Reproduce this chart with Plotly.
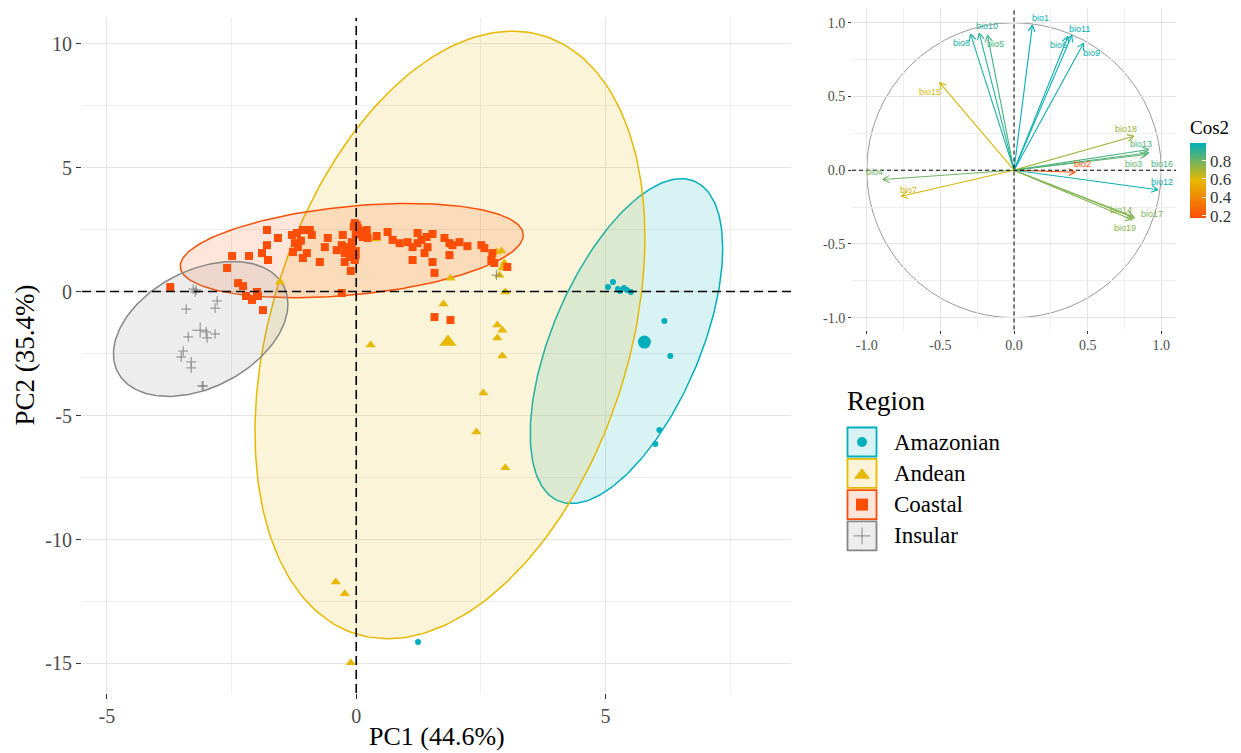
import numpy as np
import plotly.graph_objects as go
from plotly.colors import sample_colorscale

# ---------------- DATA ----------------
regions = ["Amazonian", "Andean", "Coastal", "Insular"]
region_colors = ["#00AFBB", "#E7B800", "#FC4E07", "#868686"]

amazonian_pc1 = [5.05, 5.15, 5.25, 5.37, 5.43, 5.51, 5.29, 6.18, 6.30, 6.08, 6.00, 1.24]
amazonian_pc2 = [0.18, 0.38, 0.10, 0.14, 0.06, -0.02, 0.02, -1.19, -2.60, -5.58, -6.15, -14.13]

andean_pc1 = [-1.53, 0.39, 0.99, 1.89, 1.75, 2.81, 2.91, 2.97, 2.93, 2.87, 2.99, 2.83,
              2.93, 2.83, 2.93, 2.55, 2.41, 2.99, 0.29, -0.41, -0.23, -0.11]
andean_pc2 = [0.38, 2.12, 1.96, 0.54, -0.50, 1.59, 1.63, 1.15, 0.95, 0.66, -0.02, -1.35,
              -1.56, -1.87, -2.60, -4.09, -5.66, -7.11, -2.16, -11.71, -12.19, -14.97]

coastal_pc1 = [-3.73, -1.79, -1.57, -1.79, -1.89, -1.77, -2.49, -2.15, -2.59, -2.37, -2.27,
               -2.21, -2.09, -1.99, -1.97, -1.87, -1.29, -1.19, -1.07, -0.93, -0.89, -1.23,
               -1.27, -1.17, -0.99, -1.07, -0.73, -0.63, -0.57, -0.39, -0.27, -0.29, -0.19,
               -0.09, -0.09, -0.23, -0.13, -0.23, -0.03, -0.11, -0.29, -0.03, 0.03, 0.07,
               0.13, 0.21, 0.23, 0.41, 0.63, 0.73, 0.87, 1.03, 1.13, 1.23, 1.31, 1.23, 1.41,
               1.53, 1.43, 1.37, 1.13, 1.53, 1.57, 1.77, 1.87, 1.93, 2.07, 1.87, 2.23, 2.51,
               2.57, 2.71, 2.73, 2.77, 3.03, 1.57, 1.89, -0.05, 0.01, -0.01, 0.09, -1.11]
coastal_pc2 = [0.18, 2.48, 2.16, 1.87, 1.55, 1.27, 1.43, 1.43, 0.95, 0.34, 0.22,
               -0.18, -0.34, -0.02, -0.18, -0.75, 2.28, 2.36, 2.48, 2.48, 2.28, 1.95,
               1.59, 1.79, 1.55, 1.35, 1.19, 1.79, 2.16, 1.67, 2.28, 1.87, 1.79,
               1.99, 1.75, 1.55, 1.39, 1.19, 1.27, 0.83, -0.06, 2.76, 2.56, 2.36,
               2.20, 2.48, 2.16, 2.24, 2.40, 2.08, 1.95, 1.99, 1.79, 2.36, 2.08, 1.95, 2.20,
               2.32, 1.79, 1.55, 1.27, 1.19, 0.75, 2.16, 1.95, 1.87, 1.99, 1.47, 1.83, 1.87,
               1.75, 1.27, 1.55, 1.15, 0.99, -1.03, -1.15, 2.62, 2.68, 2.30, 2.44, 2.05]

insular_pc1 = [-3.21, -3.27, -2.79, -2.83, -3.41, -3.01, -2.83, -2.99, -3.37, -3.47, -3.51,
               -3.31, -3.31, -3.09, -3.07, -3.23, 2.81]
insular_pc2 = [0.06, 0.10, -0.38, -0.67, -0.71, -1.63, -1.71, -1.87, -1.83, -2.40, -2.64,
               -2.84, -3.08, -3.81, -3.81, -0.02, 0.66]

# group means (large symbols)
mean_pc1 = [5.78, 1.84, -0.05, -3.13]
mean_pc2 = [-2.04, -2.04, 1.55, -1.56]

# concentration ellipses: centre, half extents along PC1/PC2, correlation
ellipse_cx = [5.42, 1.88, -0.09, -3.12]
ellipse_cy = [-2.00, -1.75, 1.65, -1.51]
ellipse_hx = [1.93, 3.91, 3.44, 1.75]
ellipse_hy = [6.55, 12.25, 1.90, 2.72]
ellipse_rho = [0.57, 0.32, 0.33, 0.37]

# variables (correlation circle)
var_names = ["bio1", "bio2", "bio3", "bio4", "bio5", "bio6", "bio7", "bio8", "bio9", "bio10",
             "bio11", "bio12", "bio13", "bio14", "bio15", "bio16", "bio17", "bio18", "bio19"]
var_pc1 = [0.125, 0.416, 0.900, -0.891, -0.180, 0.366, -0.766, -0.295, 0.473, -0.236,
           0.393, 0.977, 0.916, 0.809, -0.505, 0.916, 0.818, 0.814, 0.802]
var_pc2 = [0.984, -0.014, 0.107, -0.063, 0.916, 0.907, -0.177, 0.923, 0.862, 0.930,
           0.916, -0.132, 0.141, -0.313, 0.594, 0.118, -0.324, 0.231, -0.336]

main_xticks = [-5, 0, 5]
main_xticktext = ["-5", "0", "5"]
main_yticks = [-15, -10, -5, 0, 5, 10]
main_yticktext = ["-15", "-10", "-5", "0", "5", "10"]
inset_ticks = [-1.0, -0.5, 0.0, 0.5, 1.0]
inset_ticktext = ["-1.0", "-0.5", "0.0", "0.5", "1.0"]
cbar_ticks = [0.2, 0.4, 0.6, 0.8]
cbar_ticktext = ["0.2", "0.4", "0.6", "0.8"]

# ---------------- LAYOUT HELPERS ----------------
OFF = 8                      # page body margin of the html page
W, H = 1241 - OFF, 753 - OFF
SERIF = "Liberation Serif"
SANS = "Liberation Sans"
FILL_ALPHA = 0.15


def px_x(p):
    return (p - OFF) / W


def px_y(p):
    return 1 - (p - OFF) / H


def rgba(hexc, a):
    h = hexc.lstrip("#")
    r, g, b = int(h[0:2], 16), int(h[2:4], 16), int(h[4:6], 16)
    return f"rgba({r},{g},{b},{a})"


# label placement for variable names (repel-like, in inset units)
label_pos = {
    "bio1": (0.177, 1.032), "bio10": (-0.186, 0.980), "bio8": (-0.357, 0.866),
    "bio5": (-0.125, 0.859), "bio11": (0.443, 0.961), "bio6": (0.302, 0.848),
    "bio9": (0.523, 0.798), "bio15": (-0.573, 0.531), "bio18": (0.761, 0.281),
    "bio13": (0.864, 0.181), "bio3": (0.814, 0.045), "bio16": (1.002, 0.039),
    "bio2": (0.466, 0.039), "bio12": (1.002, -0.079), "bio14": (0.727, -0.268),
    "bio17": (0.936, -0.297), "bio19": (0.757, -0.392), "bio4": (-0.948, -0.014),
    "bio7": (-0.714, -0.132),
}

styles = {
    "Amazonian": dict(symbol="circle", size=6, msize=13, lsize=10),
    "Andean": dict(symbol="triangle-up", size=9, msize=15, lsize=14),
    "Coastal": dict(symbol="square", size=8, msize=12, lsize=12),
    "Insular": dict(symbol="cross-thin", size=7, msize=11, lsize=12),
}
points = {
    "Amazonian": (amazonian_pc1, amazonian_pc2),
    "Andean": (andean_pc1, andean_pc2),
    "Coastal": (coastal_pc1, coastal_pc2),
    "Insular": (insular_pc1, insular_pc2),
}

fig = go.Figure()

# ---------------- MAIN PANEL ----------------
t = np.linspace(0, 2 * np.pi, 240)
for i, reg in enumerate(regions):
    col = region_colors[i]
    ex = ellipse_cx[i] + ellipse_hx[i] * np.cos(t)
    ey = ellipse_cy[i] + ellipse_hy[i] * (ellipse_rho[i] * np.cos(t)
                                          + np.sqrt(1 - ellipse_rho[i] ** 2) * np.sin(t))
    fig.add_trace(go.Scatter(x=ex, y=ey, mode="lines", fill="toself",
                             fillcolor=rgba(col, FILL_ALPHA), line=dict(color=col, width=1.5),
                             hoverinfo="skip", showlegend=False, xaxis="x", yaxis="y"))

for i, reg in enumerate(regions):
    col = region_colors[i]
    st = styles[reg]
    px1, px2 = points[reg]
    mk = dict(symbol=st["symbol"], size=st["size"], color=col)
    if st["symbol"] == "cross-thin":
        mk["line"] = dict(color=col, width=1)
    fig.add_trace(go.Scatter(x=px1, y=px2, mode="markers", marker=mk, name=reg,
                             showlegend=False, xaxis="x", yaxis="y"))
    mk2 = dict(mk)
    mk2["size"] = st["msize"]
    fig.add_trace(go.Scatter(x=[mean_pc1[i]], y=[mean_pc2[i]], mode="markers", marker=mk2,
                             showlegend=False, xaxis="x", yaxis="y"))

shapes = []
dash_main = "9px,5px"
shapes.append(dict(type="line", xref="x", yref="y domain", x0=0, x1=0, y0=0, y1=1,
                   line=dict(color="black", width=1.6, dash=dash_main), layer="above"))
shapes.append(dict(type="line", xref="x domain", yref="y", x0=0, x1=1, y0=0, y1=0,
                   line=dict(color="black", width=1.6, dash=dash_main), layer="above"))

# ---------------- INSET: VARIABLES ----------------
cos2 = np.array(var_pc1) ** 2 + np.array(var_pc2) ** 2
cmin, cmax = float(cos2.min()), float(cos2.max())
cscale = [[0.0, "#FC4E07"], [0.5, "#E7B800"], [1.0, "#00AFBB"]]
var_cols = sample_colorscale(cscale, list((cos2 - cmin) / (cmax - cmin)))

shapes.append(dict(type="circle", xref="x2", yref="y2", x0=-1, x1=1, y0=-1, y1=1,
                   line=dict(color="#9a9a9a", width=1), layer="below"))
shapes.append(dict(type="line", xref="x2", yref="y2 domain", x0=0, x1=0, y0=0, y1=1,
                   line=dict(color="black", width=1, dash="4px,3px"), layer="above"))
shapes.append(dict(type="line", xref="x2 domain", yref="y2", x0=0, x1=1, y0=0, y1=0,
                   line=dict(color="black", width=1, dash="4px,3px"), layer="above"))

head_len, head_ang = 0.05, np.deg2rad(28)
annotations = []
for k, name in enumerate(var_names):
    vx, vy = var_pc1[k], var_pc2[k]
    ang = np.arctan2(vy, vx)
    h1 = (vx - head_len * np.cos(ang - head_ang), vy - head_len * np.sin(ang - head_ang))
    h2 = (vx - head_len * np.cos(ang + head_ang), vy - head_len * np.sin(ang + head_ang))
    fig.add_trace(go.Scatter(x=[0, vx, None, h1[0], vx, h2[0]],
                             y=[0, vy, None, h1[1], vy, h2[1]],
                             mode="lines", line=dict(color=var_cols[k], width=1.1),
                             hoverinfo="skip", showlegend=False, xaxis="x2", yaxis="y2"))
    lx, ly = label_pos[name]
    annotations.append(dict(x=lx, y=ly, xref="x2", yref="y2", text=name, showarrow=False,
                            font=dict(family=SANS, size=9, color=var_cols[k])))

fig.add_trace(go.Scatter(
    x=var_pc1, y=var_pc2, mode="markers", xaxis="x2", yaxis="y2", hoverinfo="skip",
    showlegend=False,
    marker=dict(size=1, opacity=0, color=cos2, colorscale=cscale, cmin=cmin, cmax=cmax,
                showscale=True,
                colorbar=dict(
                    x=px_x(1190), xanchor="left", xref="paper", xpad=0,
                    y=px_y(117), yanchor="top", yref="paper", ypad=0,
                    len=101, lenmode="pixels", thickness=16, thicknessmode="pixels",
                    outlinewidth=0, tickvals=cbar_ticks, ticktext=cbar_ticktext,
                    ticks="inside", tickcolor="white", ticklen=4,
                    tickfont=dict(family=SERIF, size=17, color="#333333"),
                    title=dict(text="Cos2", side="top",
                               font=dict(family=SERIF, size=19, color="black"))))))

# ---------------- CUSTOM LEGEND (Region) ----------------
annotations.append(dict(x=845, y=401, xref="x3", yref="y3", text="Region", showarrow=False,
                        xanchor="left", yanchor="middle",
                        font=dict(family=SERIF, size=27, color="black")))
for i, reg in enumerate(regions):
    col = region_colors[i]
    cy = 442 + 31.3 * i
    shapes.append(dict(type="rect", xref="x3", yref="y3", x0=847.5, x1=876.5,
                       y0=cy - 14.5, y1=cy + 14.5, fillcolor=rgba(col, FILL_ALPHA),
                       line=dict(color=col, width=1.8), layer="below"))
    st = styles[reg]
    mk = dict(symbol=st["symbol"], size=st["lsize"], color=col)
    if st["symbol"] == "cross-thin":
        mk["line"] = dict(color=col, width=1)
    fig.add_trace(go.Scatter(x=[862], y=[cy + (2 if reg == "Andean" else 0)], mode="markers",
                             marker=mk, showlegend=False, hoverinfo="skip",
                             xaxis="x3", yaxis="y3"))
    annotations.append(dict(x=892, y=cy, xref="x3", yref="y3", text=reg, showarrow=False,
                            xanchor="left", yanchor="middle",
                            font=dict(family=SERIF, size=23, color="black")))

# axis titles
annotations.append(dict(x=px_x(436.5), y=px_y(736), xref="paper", yref="paper",
                        text="PC1 (44.6%)", showarrow=False, xanchor="center",
                        yanchor="middle", font=dict(family=SERIF, size=26, color="black")))
annotations.append(dict(x=px_x(25), y=px_y(355.5), xref="paper", yref="paper",
                        text="PC2 (35.4%)", showarrow=False, textangle=-90,
                        xanchor="center", yanchor="middle",
                        font=dict(family=SERIF, size=27, color="black")))

grid_major = "#e4e4e4"
grid_minor = "#eeeeee"
tickfont_main = dict(family=SERIF, size=20, color="#4d4d4d")
tickfont_inset = dict(family=SERIF, size=14, color="#4d4d4d")

fig.update_layout(
    width=W, height=H, margin=dict(l=0, r=0, t=0, b=0),
    paper_bgcolor="white", plot_bgcolor="white", showlegend=False,
    xaxis=dict(domain=[px_x(82), px_x(791)], range=[-5.5, 8.72], anchor="y",
               tickmode="array", tickvals=main_xticks, ticktext=main_xticktext,
               showgrid=True, gridcolor=grid_major, gridwidth=1.4, zeroline=False,
               ticks="outside", ticklen=5, tickcolor="#333333", tickwidth=1,
               tickfont=tickfont_main, showline=False,
               minor=dict(tickvals=[-2.5, 2.5, 7.5], showgrid=True,
                          gridcolor=grid_minor, gridwidth=1.2, ticks="")),
    yaxis=dict(domain=[px_y(693), px_y(18)], range=[-16.19, 11.03], anchor="x",
               tickmode="array", tickvals=main_yticks, ticktext=main_yticktext,
               showgrid=True, gridcolor=grid_major, gridwidth=1.4, zeroline=False,
               ticks="outside", ticklen=5, tickcolor="#333333", tickwidth=1,
               tickfont=tickfont_main, showline=False,
               minor=dict(tickvals=[-12.5, -7.5, -2.5, 2.5, 7.5], showgrid=True,
                          gridcolor=grid_minor, gridwidth=1.2, ticks="")),
    xaxis2=dict(domain=[px_x(852), px_x(1176)], range=[-1.1, 1.1], anchor="y2",
                tickmode="array", tickvals=inset_ticks, ticktext=inset_ticktext,
                showgrid=True, gridcolor=grid_major, gridwidth=1, zeroline=False,
                ticks="outside", ticklen=3, tickcolor="#333333", tickfont=tickfont_inset,
                minor=dict(tickvals=[-0.75, -0.25, 0.25, 0.75], showgrid=True,
                           gridcolor=grid_minor, gridwidth=0.8, ticks="")),
    yaxis2=dict(domain=[px_y(329.5), px_y(8)], range=[-1.08, 1.1], anchor="x2",
                tickmode="array", tickvals=inset_ticks, ticktext=inset_ticktext,
                showgrid=True, gridcolor=grid_major, gridwidth=1, zeroline=False,
                ticks="outside", ticklen=3, tickcolor="#333333", tickfont=tickfont_inset,
                minor=dict(tickvals=[-0.75, -0.25, 0.25, 0.75], showgrid=True,
                           gridcolor=grid_minor, gridwidth=0.8, ticks="")),
    xaxis3=dict(domain=[px_x(830), px_x(1030)], range=[830, 1030], anchor="y3",
                visible=False, fixedrange=True),
    yaxis3=dict(domain=[px_y(560), px_y(380)], range=[560, 380], anchor="x3",
                visible=False, fixedrange=True),
    shapes=shapes, annotations=annotations,
)

fig.write_html("out.html")
